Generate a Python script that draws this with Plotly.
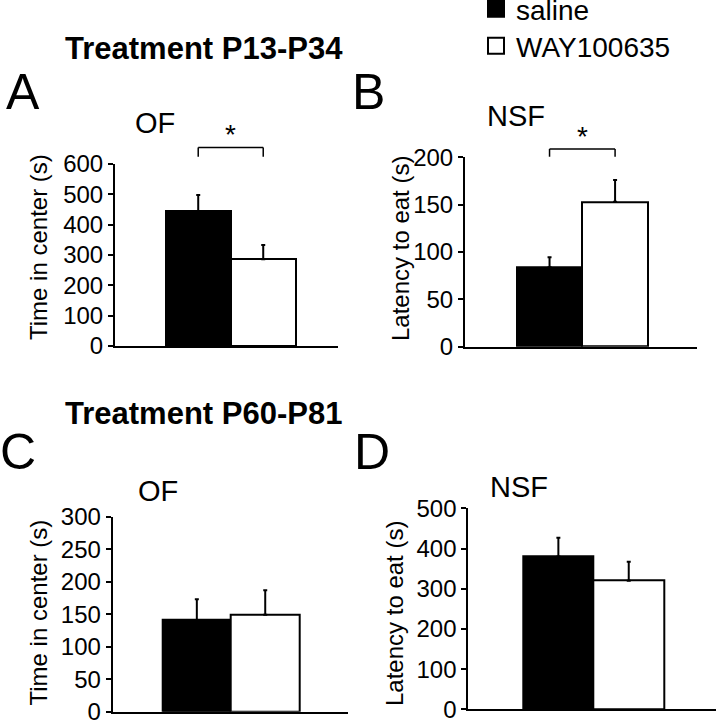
import plotly.graph_objects as go

W, H = 716, 720
FONT = "Liberation Sans, Arial, sans-serif"

# ---------------- data ----------------
groups = ["saline", "WAY100635"]
group_colors = ["black", "white"]

of_p13_mean = [445, 286]
of_p13_sem = [53, 47]
nsf_p13_mean = [84, 153]
nsf_p13_sem = [10.5, 23]
of_p60_mean = [141, 149]
of_p60_sem = [32, 38]
nsf_p60_mean = [380, 320]
nsf_p60_sem = [47, 47]

ticks_a = [0, 100, 200, 300, 400, 500, 600]
ticks_b = [0, 50, 100, 150, 200]
ticks_c = [0, 50, 100, 150, 200, 250, 300]
ticks_d = [0, 100, 200, 300, 400, 500]

header_top = "Treatment P13-P34"
header_bottom = "Treatment P60-P81"

# ---------------- layout helpers ----------------
def fx(px):
    return px / W

def fy(py):
    return 1 - py / H

panels = [
    dict(letter="A", title="OF", ytitle="Time in center (s)", mean=of_p13_mean, sem=of_p13_sem,
         ticks=ticks_a, xpx=(115, 338), xr=(-1.28, 2.15), ypx=(164, 346),
         letter_xy=(23, 92), title_xy=(155, 123), ytitle_xy=(38, 247), sig=True,
         br=(1.09, 1.04, 1.16)),
    dict(letter="B", title="NSF", ytitle="Latency to eat (s)", mean=nsf_p13_mean, sem=nsf_p13_sem,
         ticks=ticks_b, xpx=(465, 697), xr=(-1.29, 2.25), ypx=(157.3, 346.7),
         letter_xy=(368, 92), title_xy=(516, 116), ytitle_xy=(400, 249), sig=True,
         br=(1.044, 1.003, 1.11)),
    dict(letter="C", title="OF", ytitle="Time in center (s)", mean=of_p60_mean, sem=of_p60_sem,
         ticks=ticks_c, xpx=(112.7, 348), xr=(-1.23, 2.21), ypx=(516.7, 711.7),
         letter_xy=(18, 452), title_xy=(158, 491), ytitle_xy=(37.5, 613), sig=False),
    dict(letter="D", title="NSF", ytitle="Latency to eat (s)", mean=nsf_p60_mean, sem=nsf_p60_sem,
         ticks=ticks_d, xpx=(468.3, 716), xr=(-1.28, 2.24), ypx=(508.3, 709.3),
         letter_xy=(372, 452), title_xy=(519, 487), ytitle_xy=(394, 614), sig=False),
]

fig = go.Figure()
annotations = []
shapes = []

def ann(text, x, y, size, xref="paper", yref="paper", angle=0):
    return dict(text=text, x=x, y=y, xref=xref, yref=yref, showarrow=False,
                xanchor="center", yanchor="middle", textangle=angle,
                font=dict(size=size, color="black", family=FONT))

for k, p in enumerate(panels):
    n = "" if k == 0 else str(k + 1)
    xa, ya = "x" + n, "y" + n
    for i, g in enumerate(groups):
        fig.add_trace(go.Bar(
            x=[g], y=[p["mean"][i]], xaxis=xa, yaxis=ya, showlegend=False,
            marker=dict(color=group_colors[i], line=dict(color="black", width=2)),
            error_y=dict(type="data", array=[p["sem"][i]], arrayminus=[0], symmetric=False,
                         color="black", thickness=2, width=2),
        ))
    top = p["ticks"][-1]
    fig.update_layout(**{
        "xaxis" + n: dict(domain=[fx(p["xpx"][0]), fx(p["xpx"][1])], range=list(p["xr"]),
                          type="category", categoryorder="array", categoryarray=groups,
                          showline=True, linecolor="black", linewidth=2, ticks="",
                          showticklabels=False, showgrid=False, zeroline=False,
                          anchor=ya, fixedrange=True),
        "yaxis" + n: dict(domain=[fy(p["ypx"][1]), fy(p["ypx"][0])], range=[0, top],
                          tickvals=p["ticks"], showline=True, linecolor="black", linewidth=2,
                          ticks="outside", ticklen=5, tickwidth=2, tickcolor="black",
                          ticklabeloverflow="allow",
                          tickfont=dict(size=24, color="black", family=FONT),
                          showgrid=False, zeroline=False, anchor=xa, fixedrange=True),
    })
    annotations.append(ann(p["letter"], fx(p["letter_xy"][0]), fy(p["letter_xy"][1]), 50))
    annotations.append(ann(p["title"], fx(p["title_xy"][0]), fy(p["title_xy"][1]), 29))
    annotations.append(ann(p["ytitle"], fx(p["ytitle_xy"][0]), fy(p["ytitle_xy"][1]), 24, angle=-90))
    if p["sig"]:
        yb, yt, ys = p["br"]
        x0, x1 = 0, len(groups) - 1
        line = dict(color="black", width=1.5)
        shapes.append(dict(type="line", xref=xa, yref=ya + " domain", x0=x0, x1=x1, y0=yb, y1=yb, line=line))
        shapes.append(dict(type="line", xref=xa, yref=ya + " domain", x0=x0, x1=x0, y0=yb, y1=yt, line=line))
        shapes.append(dict(type="line", xref=xa, yref=ya + " domain", x0=x1, x1=x1, y0=yb, y1=yt, line=line))
        annotations.append(ann("*", (x0 + x1) / 2, ys, 28, xref=xa, yref=ya + " domain"))

annotations.append(ann("<b>%s</b>" % header_top, fx(204), fy(49), 31))
annotations.append(ann("<b>%s</b>" % header_bottom, fx(204), fy(413), 31))

# legend entries (one legend box per group so each row can be placed exactly)
legend_names = ["legend", "legend2"]
legend_tops = [-16, 21]
for i, g in enumerate(groups):
    fig.add_trace(go.Scatter(x=[None], y=[None], mode="markers", name=g, showlegend=True,
                             legend=legend_names[i],
                             marker=dict(symbol="square", size=16, color=group_colors[i],
                                         line=dict(color="black", width=2))))

legend_common = dict(x=fx(476), xanchor="left", yanchor="top", bgcolor="rgba(0,0,0,0)",
                     font=dict(size=28, color="black", family=FONT), tracegroupgap=0, itemwidth=30)

fig.update_layout(
    width=W, height=H, margin=dict(l=0, r=0, t=0, b=0, autoexpand=False),
    paper_bgcolor="white", plot_bgcolor="white",
    barmode="overlay", bargap=0,
    showlegend=True,
    legend=dict(y=fy(legend_tops[0]), **legend_common),
    legend2=dict(y=fy(legend_tops[1]), **legend_common),
    annotations=annotations, shapes=shapes,
    font=dict(family=FONT, color="black"),
)

fig.write_html("out.html", config={"displayModeBar": False},
               post_script="document.body.style.margin='0';")
